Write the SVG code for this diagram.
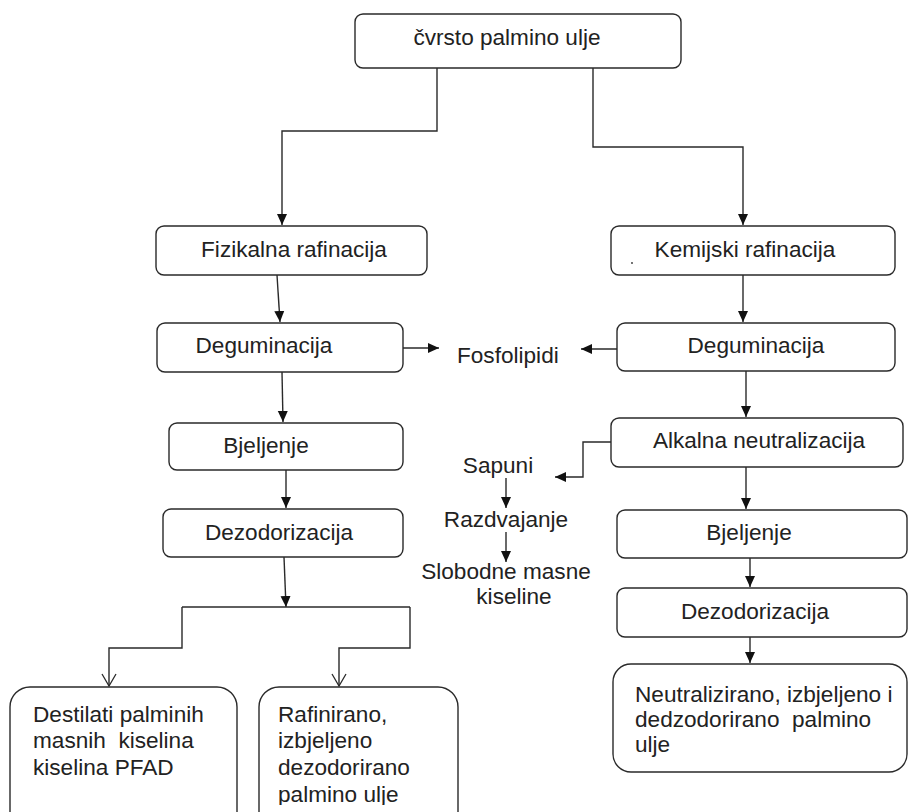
<svg xmlns="http://www.w3.org/2000/svg" width="908" height="812" viewBox="0 0 908 812">
<style>
.box{fill:#fff;stroke:#2a2a2a;stroke-width:1.4}
.t{font-family:"Liberation Sans",Arial,sans-serif;font-size:22.6px;fill:#222}
.c{text-anchor:middle}
.ln{fill:none;stroke:#2a2a2a;stroke-width:1.4}
</style>
<defs>
<marker id="ah" markerUnits="userSpaceOnUse" markerWidth="12" markerHeight="12" viewBox="0 0 12 12" refX="11" refY="6" orient="auto">
<path d="M0,1 L11,6 L0,11 Z" fill="#111"/>
</marker>
<marker id="av" markerUnits="userSpaceOnUse" markerWidth="14" markerHeight="16" viewBox="0 0 14 16" refX="13" refY="8" orient="auto">
<path d="M1,1 L13,8 L1,15" fill="none" stroke="#2a2a2a" stroke-width="1.3"/>
</marker>
<clipPath id="cut"><rect x="0" y="0" width="908" height="805"/></clipPath>
</defs>
<rect width="908" height="812" fill="#fff"/>

<g id="connectors">
<path class="ln" d="M437,68 V131 H282 V225" marker-end="url(#ah)"/>
<path class="ln" d="M593,68 V147 H743 V225" marker-end="url(#ah)"/>
<path class="ln" d="M277,275 L280,322" marker-end="url(#ah)"/>
<path class="ln" d="M282,372 L283,422" marker-end="url(#ah)"/>
<path class="ln" d="M286,470 V508" marker-end="url(#ah)"/>
<path class="ln" d="M284,557 L286,607" marker-end="url(#ah)"/>
<path class="ln" d="M182,607 H410"/>
<path class="ln" d="M182,607 V648 H109 V686" marker-end="url(#av)"/>
<path class="ln" d="M410,607 V648 H339 V686" marker-end="url(#av)"/>
<path class="ln" d="M403,348 H439" marker-end="url(#ah)"/>
<path class="ln" d="M617,349 H581" marker-end="url(#ah)"/>
<path class="ln" d="M743,275 V322" marker-end="url(#ah)"/>
<path class="ln" d="M746,371 V417" marker-end="url(#ah)"/>
<path class="ln" d="M611,442 H583 V477 H555" marker-end="url(#ah)"/>
<path class="ln" d="M506,478 V508" marker-end="url(#ah)"/>
<path class="ln" d="M506,532 V562" marker-end="url(#ah)"/>
<path class="ln" d="M746,467 V509" marker-end="url(#ah)"/>
<path class="ln" d="M750,558 V587" marker-end="url(#ah)"/>
<path class="ln" d="M750,637 V663" marker-end="url(#ah)"/>
</g>

<g id="n-top"><rect class="box" x="355" y="14" width="326" height="54" rx="8"/><text class="t c" x="507" y="45">čvrsto palmino ulje</text></g>
<g id="n-fiz"><rect class="box" x="156" y="226" width="271" height="49" rx="8"/><text class="t c" x="294" y="257">Fizikalna rafinacija</text></g>
<g id="n-kem"><rect class="box" x="611" y="226" width="284" height="49" rx="8"/><text class="t c" x="745" y="257">Kemijski rafinacija</text><circle cx="632" cy="263" r="0.9" fill="#333"/></g>
<g id="n-degL"><rect class="box" x="157" y="323" width="246" height="49" rx="8"/><text class="t c" x="264" y="353">Deguminacija</text></g>
<g id="n-degR"><rect class="box" x="617" y="323" width="278" height="48" rx="8"/><text class="t c" x="756" y="353">Deguminacija</text></g>
<g id="n-fosfo"><text class="t" x="457" y="363">Fosfolipidi</text></g>
<g id="n-bjelL"><rect class="box" x="169" y="423" width="234" height="47" rx="8"/><text class="t c" x="266" y="453">Bjeljenje</text></g>
<g id="n-dezL"><rect class="box" x="163" y="509" width="240" height="48" rx="8"/><text class="t c" x="279" y="540">Dezodorizacija</text></g>
<g id="n-alk"><rect class="box" x="611" y="418" width="292" height="49" rx="8"/><text class="t c" x="759" y="448">Alkalna neutralizacija</text></g>
<g id="n-sapuni"><text class="t c" x="498" y="473">Sapuni</text></g>
<g id="n-razd"><text class="t c" x="506" y="527">Razdvajanje</text></g>
<g id="n-slob"><text class="t c" x="506" y="579">Slobodne masne</text><text class="t c" x="514" y="604">kiseline</text></g>
<g id="n-bjelR"><rect class="box" x="617" y="510" width="290" height="48" rx="8"/><text class="t c" x="749" y="540">Bjeljenje</text></g>
<g id="n-dezR"><rect class="box" x="617" y="588" width="290" height="49" rx="8"/><text class="t c" x="755" y="619">Dezodorizacija</text></g>
<g id="n-final"><rect class="box" x="613" y="664" width="294" height="108" rx="18"/>
<text class="t" x="635" y="702">Neutralizirano, izbjeljeno i</text>
<text class="t" x="635" y="727" xml:space="preserve">dedzodorirano  palmino</text>
<text class="t" x="635" y="752">ulje</text></g>
<g id="n-pfad"><rect class="box" x="10" y="687" width="227" height="150" rx="20"/>
<text class="t" x="33" y="722">Destilati palminih</text>
<text class="t" x="33" y="748" xml:space="preserve">masnih  kiselina</text>
<text class="t" x="33" y="775">kiselina PFAD</text></g>
<g id="n-raf"><rect class="box" x="259" y="687" width="199" height="150" rx="20"/>
<text class="t" x="278" y="722">Rafinirano,</text>
<text class="t" x="278" y="748">izbjeljeno</text>
<text class="t" x="278" y="775">dezodorirano</text>
<text class="t" x="278" y="802" clip-path="url(#cut)">palmino ulje</text></g>
</svg>
